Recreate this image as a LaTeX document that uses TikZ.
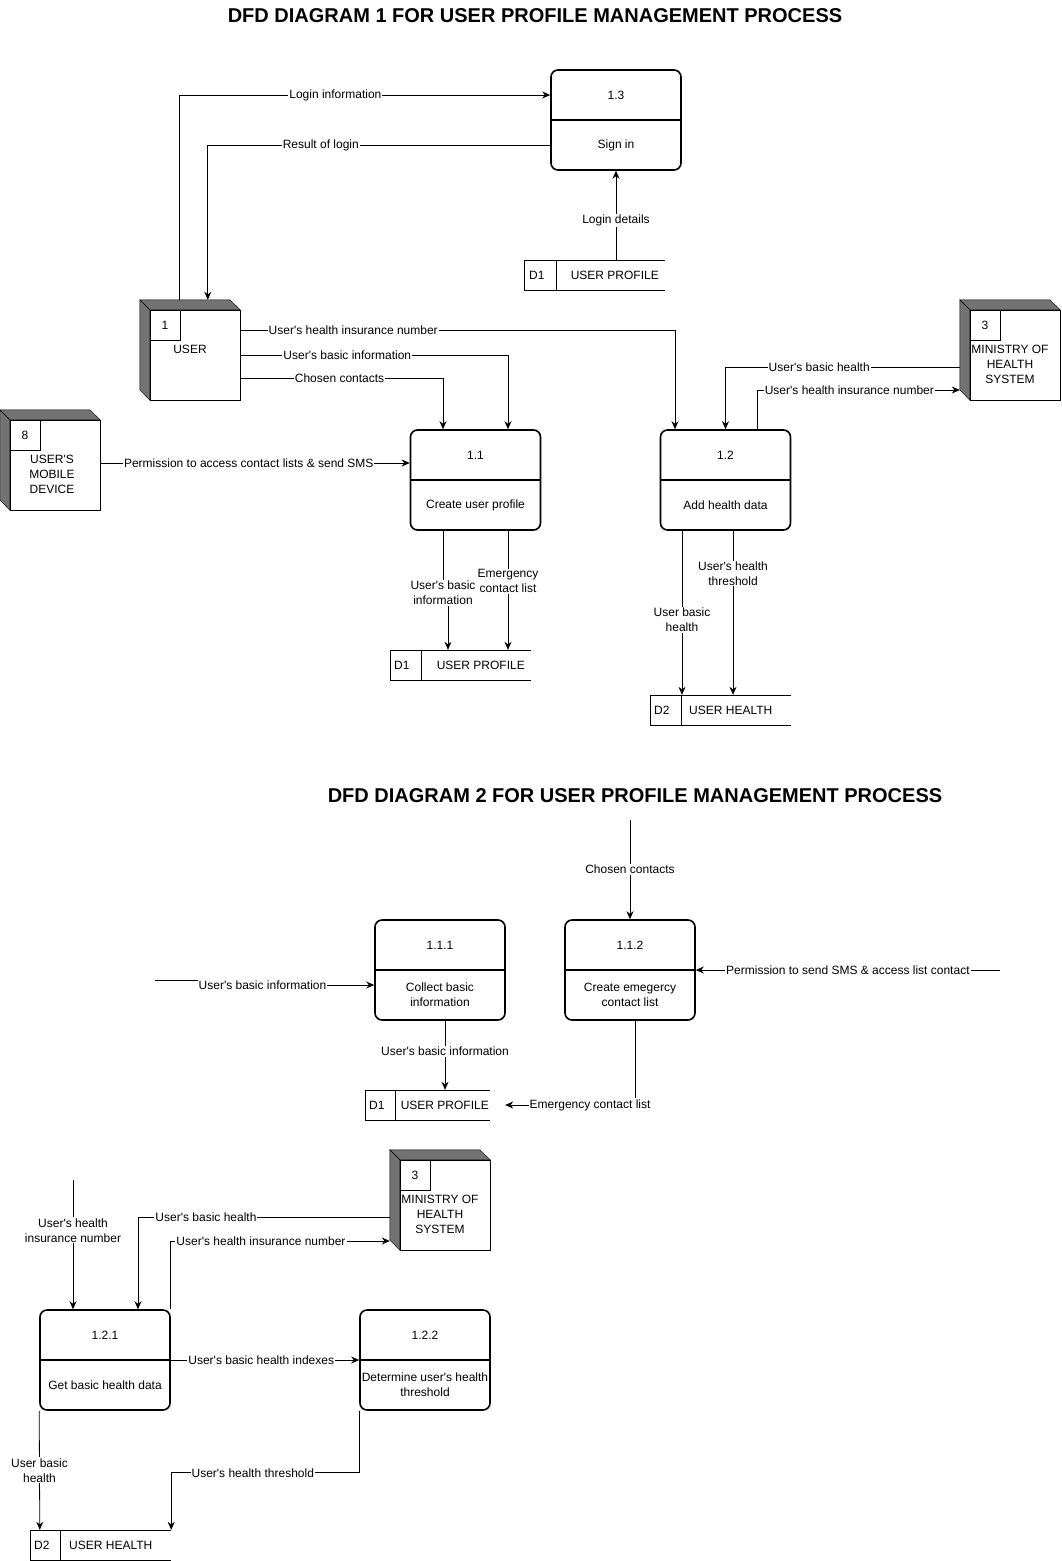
\documentclass[tikz,border=0pt]{standalone}
\usepackage{fontspec}
\setmainfont{Liberation Sans}[Ligatures=TeXOff]
\usetikzlibrary{arrows.meta}

\begin{document}
\begin{tikzpicture}[x=1pt, y=-1pt,
        every node/.style = {font=\fontsize{12}{15}\selectfont},
        process/.style = {draw, line width=1.6pt, rounded corners=7pt,
            minimum width=130pt, minimum height=100pt},
        entity/.style = {draw, minimum size=90pt, inner sep=0pt},
        idbox/.style = {draw, minimum size=30pt, inner sep=0pt, anchor=north west},
        cubeside/.style = {draw, fill=black!55},
        storebox/.style = {minimum width=141pt, minimum height=30pt, inner sep=0pt},
        flow/.style = {-{Stealth[length=8pt,width=7pt]}, line width=0.8pt},
        lbl/.style = {fill=white, inner sep=1pt, align=center},
        title/.style = {font=\fontsize{20}{24}\selectfont\bfseries}
        ]

    \useasboundingbox (0,0) rectangle (1061,1561);

    % Titles
    \node[title] (title1) at (535,16) {DFD DIAGRAM 1 FOR USER PROFILE MANAGEMENT PROCESS};
    \node[title] (title2) at (635,796) {DFD DIAGRAM 2 FOR USER PROFILE MANAGEMENT PROCESS};

    % ---------- Diagram 1 ----------

    % Process 1.3
    \node[process] (p13) at (616,120) {};
    \draw[line width=1.6pt] (p13.west) -- (p13.east);
    \node (p13id) at ([yshift=25pt]p13.center) {1.3};
    \node (p13txt) at ([yshift=-25pt]p13.center) {Sign in};

    % Process 1.1
    \node[process] (p11) at (475.5,480) {};
    \draw[line width=1.6pt] (p11.west) -- (p11.east);
    \node (p11id) at ([yshift=25pt]p11.center) {1.1};
    \node (p11txt) at ([yshift=-25pt]p11.center) {Create user profile};

    % Process 1.2
    \node[process] (p12) at (725.5,480) {};
    \draw[line width=1.6pt] (p12.west) -- (p12.east);
    \node (p12id) at ([yshift=25pt]p12.center) {1.2};
    \node (p12txt) at ([yshift=-25pt]p12.center) {Add health data};

    % Entity USER
    \node[entity] (user) at (195,355) {};
    \path[cubeside] (user.north west) -- ++(-10,-10) -- ++(90,0) -- (user.north east) -- cycle;
    \path[cubeside] (user.north west) -- ++(-10,-10) -- ++(0,90) -- (user.south west) -- cycle;
    \node[idbox] (userid) at (user.north west) {1};
    \node[anchor=north, inner sep=0pt, align=center] (username) at ([xshift=-5pt,yshift=-35pt]user.north) {USER};

    % Entity USER'S MOBILE DEVICE
    \node[entity] (mobile) at (55,465) {};
    \path[cubeside] (mobile.north west) -- ++(-10,-10) -- ++(90,0) -- (mobile.north east) -- cycle;
    \path[cubeside] (mobile.north west) -- ++(-10,-10) -- ++(0,90) -- (mobile.south west) -- cycle;
    \node[idbox] (mobileid) at (mobile.north west) {8};
    \node[anchor=north, inner sep=0pt, align=center] (mobilename) at ([xshift=-3pt,yshift=-35pt]mobile.north) {USER'S\\MOBILE\\DEVICE};

    % Entity MINISTRY OF HEALTH SYSTEM
    \node[entity] (moh1) at (1015,355) {};
    \path[cubeside] (moh1.north west) -- ++(-10,-10) -- ++(90,0) -- (moh1.north east) -- cycle;
    \path[cubeside] (moh1.north west) -- ++(-10,-10) -- ++(0,90) -- (moh1.south west) -- cycle;
    \node[idbox] (moh1id) at (moh1.north west) {3};
    \node[anchor=north, inner sep=0pt, align=center] (moh1name) at ([xshift=-5pt,yshift=-35pt]moh1.north) {MINISTRY OF\\HEALTH\\SYSTEM};

    % Data store D1 (sign in)
    \node[storebox] (d1a) at (594.5,275) {};
    \draw (d1a.north east) -- (d1a.north west) -- (d1a.south west) -- (d1a.south east);
    \draw ([xshift=32pt]d1a.north west) -- ([xshift=32pt]d1a.south west);
    \node (d1aid) at ([xshift=13pt]d1a.west) {D1};
    \node (d1aname) at ([xshift=91pt]d1a.west) {USER PROFILE};

    % Data store D1 (profile)
    \node[storebox] (d1b) at (460.5,665) {};
    \draw (d1b.north east) -- (d1b.north west) -- (d1b.south west) -- (d1b.south east);
    \draw ([xshift=31pt]d1b.north west) -- ([xshift=31pt]d1b.south west);
    \node (d1bid) at ([xshift=12pt]d1b.west) {D1};
    \node (d1bname) at ([xshift=91pt]d1b.west) {USER PROFILE};

    % Data store D2
    \node[storebox] (d2a) at (720.5,710) {};
    \draw (d2a.north east) -- (d2a.north west) -- (d2a.south west) -- (d2a.south east);
    \draw ([xshift=31pt]d2a.north west) -- ([xshift=31pt]d2a.south west);
    \node (d2aid) at ([xshift=12pt]d2a.west) {D2};
    \node (d2aname) at ([xshift=81pt]d2a.west) {USER HEALTH};

    % Flows of diagram 1
    \draw[flow] ([xshift=30pt,yshift=10pt]user.north west) |- node[lbl,pos=0.71] {Login information} ([yshift=25pt]p13.west);
    \draw[flow] ([yshift=-25pt]p13.west) -| node[lbl,pos=0.335] {Result of login} ([xshift=58pt,yshift=10pt]user.north west);
    \draw[flow] ([xshift=21.5pt]d1a.north) -- node[lbl,pos=0.444] {Login details} (p13.south);
    \draw[flow] ([yshift=25pt]user.east) -| node[lbl,pos=0.13] {User's health insurance number} ([xshift=-50.5pt]p12.north);
    \draw[flow] (user.east) -| node[lbl,pos=0.2] {User's basic information} ([xshift=32.5pt]p11.north);
    \draw[flow] ([yshift=-23pt]user.east) -| node[lbl,pos=0.245] {Chosen contacts} ([xshift=-32.5pt]p11.north);
    \draw[flow] ([yshift=2pt]mobile.east) -- node[lbl,pos=0.48] {Permission to access contact lists \& send SMS} ([yshift=17pt]p11.west);
    \draw[flow] ([xshift=-10pt,yshift=-12pt]moh1.west) -| node[lbl,pos=0.3] {User's basic health} (p12.north);
    \draw[flow] ([xshift=32pt]p12.north) |- node[lbl,pos=0.727] {User's health insurance number} ([xshift=-10pt,yshift=-35pt]moh1.west);
    \draw[flow] ([xshift=-32.5pt]p11.south) -- ++(0,62) node[lbl] {User's basic\\information} -| ([xshift=-12.5pt]d1b.north);
    \draw[flow] ([xshift=32.5pt]p11.south) -- node[lbl,pos=0.425] {Emergency\\contact list} ([xshift=47.5pt]d1b.north);
    \draw[flow] ([xshift=-43.5pt]p12.south) -- node[lbl,pos=0.545] {User basic\\health} ([xshift=-38.5pt]d2a.north);
    \draw[flow] ([xshift=7.5pt]p12.south) -- node[lbl,pos=0.26] {User's health\\threshold} ([xshift=12.5pt]d2a.north);

    % ---------- Diagram 2 ----------

    % Process 1.1.1
    \node[process] (p111) at (440,970) {};
    \draw[line width=1.6pt] (p111.west) -- (p111.east);
    \node (p111id) at ([yshift=25pt]p111.center) {1.1.1};
    \node[align=center] (p111txt) at ([yshift=-25pt]p111.center) {Collect basic\\information};

    % Process 1.1.2
    \node[process] (p112) at (630,970) {};
    \draw[line width=1.6pt] (p112.west) -- (p112.east);
    \node (p112id) at ([yshift=25pt]p112.center) {1.1.2};
    \node[align=center] (p112txt) at ([yshift=-25pt]p112.center) {Create emegercy\\contact list};

    % Process 1.2.1
    \node[process] (p121) at (105,1360) {};
    \draw[line width=1.6pt] (p121.west) -- (p121.east);
    \node (p121id) at ([yshift=25pt]p121.center) {1.2.1};
    \node (p121txt) at ([yshift=-25pt]p121.center) {Get basic health data};

    % Process 1.2.2
    \node[process] (p122) at (425,1360) {};
    \draw[line width=1.6pt] (p122.west) -- (p122.east);
    \node (p122id) at ([yshift=25pt]p122.center) {1.2.2};
    \node[align=center, inner sep=0pt] (p122txt) at ([yshift=-25pt]p122.center) {Determine user's health\\threshold};

    % Entity MINISTRY OF HEALTH SYSTEM
    \node[entity] (moh2) at (445,1205) {};
    \path[cubeside] (moh2.north west) -- ++(-10,-10) -- ++(90,0) -- (moh2.north east) -- cycle;
    \path[cubeside] (moh2.north west) -- ++(-10,-10) -- ++(0,90) -- (moh2.south west) -- cycle;
    \node[idbox] (moh2id) at (moh2.north west) {3};
    \node[anchor=north, inner sep=0pt, align=center] (moh2name) at ([xshift=-5pt,yshift=-35pt]moh2.north) {MINISTRY OF\\HEALTH\\SYSTEM};

    % Data store D1
    \node[storebox, minimum width=125pt] (d1c) at (427.5,1105) {};
    \draw (d1c.north east) -- (d1c.north west) -- (d1c.south west) -- (d1c.south east);
    \draw ([xshift=30pt]d1c.north west) -- ([xshift=30pt]d1c.south west);
    \node (d1cid) at ([xshift=12pt]d1c.west) {D1};
    \node (d1cname) at ([xshift=80pt]d1c.west) {USER PROFILE};

    % Data store D2
    \node[storebox] (d2b) at (100.5,1545) {};
    \draw (d2b.north east) -- (d2b.north west) -- (d2b.south west) -- (d2b.south east);
    \draw ([xshift=30pt]d2b.north west) -- ([xshift=30pt]d2b.south west);
    \node (d2bid) at ([xshift=12pt]d2b.west) {D2};
    \node (d2bname) at ([xshift=81pt]d2b.west) {USER HEALTH};

    % Free ends
    \coordinate (cc) at (630,820);
    \coordinate (ubi) at (155,980);
    \coordinate (perm) at (1000,970);
    \coordinate (uhin) at (73,1180);

    % Flows of diagram 2
    \draw[flow] (cc) -- node[lbl] {Chosen contacts} (p112.north);
    \draw[flow] (ubi) -- ++(50,0) |- node[lbl,pos=0.67] {User's basic information} ([yshift=-15pt]p111.west);
    \draw[flow] (perm) -- node[lbl] {Permission to send SMS \& access list contact} (p112.east);
    \draw[flow] ([xshift=5pt]p111.south) -- node[lbl,pos=0.44] {User's basic information} ([xshift=17.5pt]d1c.north);
    \draw[flow] ([xshift=5pt]p112.south) |- node[lbl,pos=0.673] {Emergency contact list} ([xshift=15pt]d1c.east);
    \draw[flow] (uhin) -- node[lbl,pos=0.39] {User's health\\insurance number} ([xshift=-32pt]p121.north);
    \draw[flow] ([xshift=-10pt,yshift=-12pt]moh2.west) -| node[lbl,pos=0.365] {User's basic health} ([xshift=33pt]p121.north);
    \draw[flow] ([xshift=65pt]p121.north) |- node[lbl,pos=0.707] {User's health insurance number} ([xshift=-10pt,yshift=-36pt]moh2.west);
    \draw[flow] (p121.east) -- node[lbl,pos=0.48] {User's basic health indexes} (p122.west);
    \draw[flow] (p121.south west) -- node[lbl] {User basic\\health} ([xshift=10pt]d2b.north west);
    \draw[flow] (p122.south west) -- ++(0,62) -| node[lbl,pos=0.283] {User's health threshold} (d2b.north east);

\end{tikzpicture}
\end{document}
